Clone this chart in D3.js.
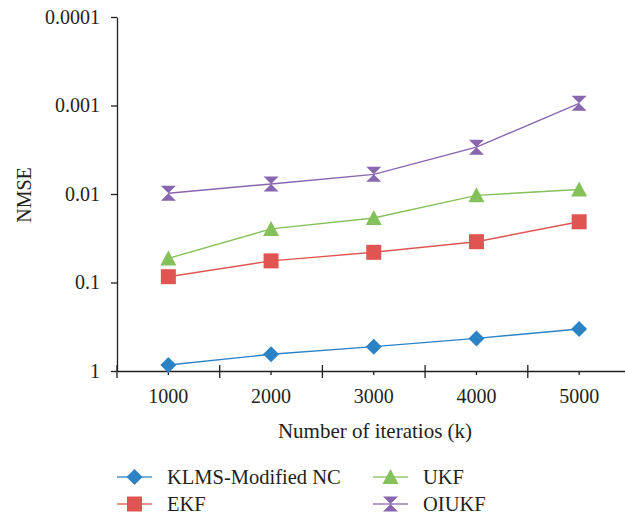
<!DOCTYPE html>
<html><head><meta charset="utf-8">
<script src="https://cdn.jsdelivr.net/npm/d3@7"></script>
<style>
html,body{margin:0;padding:0;background:#fff;}
</style></head>
<body>
<svg id="chart" width="625" height="517"></svg>
<script>
const categories = ["1000","2000","3000","4000","5000"];
const seriesNames = ["KLMS-Modified NC","EKF","UKF","OIUKF"];
const klms  = [0.855, 0.647, 0.531, 0.428, 0.335];
const ekf   = [0.086, 0.057, 0.0456, 0.0346, 0.0206];
const ukf   = [0.0534, 0.0248, 0.0187, 0.01035, 0.0089];
const oiukf = [0.0098, 0.0077, 0.0060, 0.00296, 0.000944];
const yTickValues = [1, 0.1, 0.01, 0.001, 0.0001];
const yTickLabels = ["1","0.1","0.01","0.001","0.0001"];
const colors = ["#2b83c6","#e05552","#85c15b","#8866b0"];
const shapes = ["diamond","square","triangle","hourglass"];

const FONT = "Liberation Serif";
const svg = d3.select("#chart");
const textColor = "#231f20";

const x = d3.scaleBand().domain(categories).range([117, 630.5]).padding(0);
const y = d3.scaleLog().domain([1, 0.0001]).range([371, 17]);

const series = [klms, ekf, ukf, oiukf].map((vals, i) => ({
  name: seriesNames[i], color: colors[i], shape: shapes[i],
  points: vals.map((v, j) => ({cat: categories[j], v}))
}));

// y axis
const yAxis = svg.append("g").attr("transform", "translate(117,0)")
  .call(d3.axisLeft(y).tickValues(yTickValues)
    .tickFormat((d, i) => yTickLabels[i]).tickSize(6).tickPadding(11).tickSizeOuter(0));
yAxis.select(".domain").attr("stroke", textColor).attr("stroke-width", 1.3);
yAxis.selectAll(".tick line").attr("stroke", textColor).attr("stroke-width", 1.3);
yAxis.selectAll(".tick text").attr("fill", textColor).style("font-size", "20px")
  .style("font-family", FONT).attr("dy", "0.32em");

// x axis (minor ticks at category centers)
const xAxis = svg.append("g").attr("transform", "translate(0,371)")
  .call(d3.axisBottom(x).tickSize(4).tickSizeOuter(0));
xAxis.select(".domain").attr("stroke", textColor).attr("stroke-width", 1.3);
xAxis.selectAll(".tick line").attr("stroke", textColor).attr("stroke-width", 1.3);
xAxis.selectAll(".tick text").attr("fill", textColor).style("font-size", "20px")
  .style("font-family", FONT).attr("y", 32).attr("dy", 0);
// major ticks at band boundaries
const bounds = categories.map(c => x(c)).concat([x(categories[categories.length-1]) + x.bandwidth()]);
xAxis.selectAll(".major").data(bounds).enter().append("line")
  .attr("x1", d => d).attr("x2", d => d).attr("y1", -6).attr("y2", 7)
  .attr("stroke", textColor).attr("stroke-width", 1.3);

// axis titles
svg.append("text").attr("x", 375).attr("y", 438).attr("text-anchor", "middle")
  .style("font-size", "21px").style("font-family", FONT).attr("fill", textColor).text("Number of iteratios (k)");
svg.append("text").attr("transform", "translate(31,195) rotate(-90)").attr("text-anchor", "middle")
  .style("font-size", "20px").style("font-family", FONT).attr("fill", textColor).text("NMSE");

function marker(g, shape, color) {
  if (shape === "diamond") {
    g.append("path").attr("d", "M0,-8L8,0L0,8L-8,0Z").attr("fill", color);
  } else if (shape === "square") {
    g.append("rect").attr("x", -7.5).attr("y", -7.5).attr("width", 15).attr("height", 15).attr("fill", color);
  } else if (shape === "triangle") {
    g.append("path").attr("d", "M0,-8L8,7L-8,7Z").attr("fill", color);
  } else {
    g.append("path").attr("d", "M-7.5,-7.5L7.5,-7.5L0,0L7.5,7.5L-7.5,7.5L0,0Z").attr("fill", color);
  }
}

const line = d3.line().x(d => x(d.cat) + x.bandwidth()/2).y(d => y(d.v));
series.forEach(s => {
  svg.append("path").datum(s.points).attr("d", line).attr("fill", "none")
    .attr("stroke", s.color).attr("stroke-width", 1.4);
});
series.forEach(s => {
  s.points.forEach(p => {
    const g = svg.append("g").attr("transform", `translate(${x(p.cat) + x.bandwidth()/2},${y(p.v)})`);
    marker(g, s.shape, s.color);
  });
});

// legend
const legendPos = [
  {lx: 117, ly: 477}, {lx: 117, ly: 504}, {lx: 373, ly: 477}, {lx: 373, ly: 504}
];
series.forEach((s, i) => {
  const p = legendPos[i];
  const g = svg.append("g").attr("transform", `translate(${p.lx},${p.ly})`);
  g.append("line").attr("x1", 0).attr("x2", 35).attr("y1", 0).attr("y2", 0)
    .attr("stroke", s.color).attr("stroke-width", 1.6).attr("opacity", 0.85);
  const mg = g.append("g").attr("transform", "translate(17.5,0)");
  marker(mg, s.shape, s.color);
  g.append("text").attr("x", 50).attr("y", 6.5).style("font-size", "20.5px").style("font-family", FONT)
    .attr("fill", textColor).text(s.name);
});
</script>
</body></html>
